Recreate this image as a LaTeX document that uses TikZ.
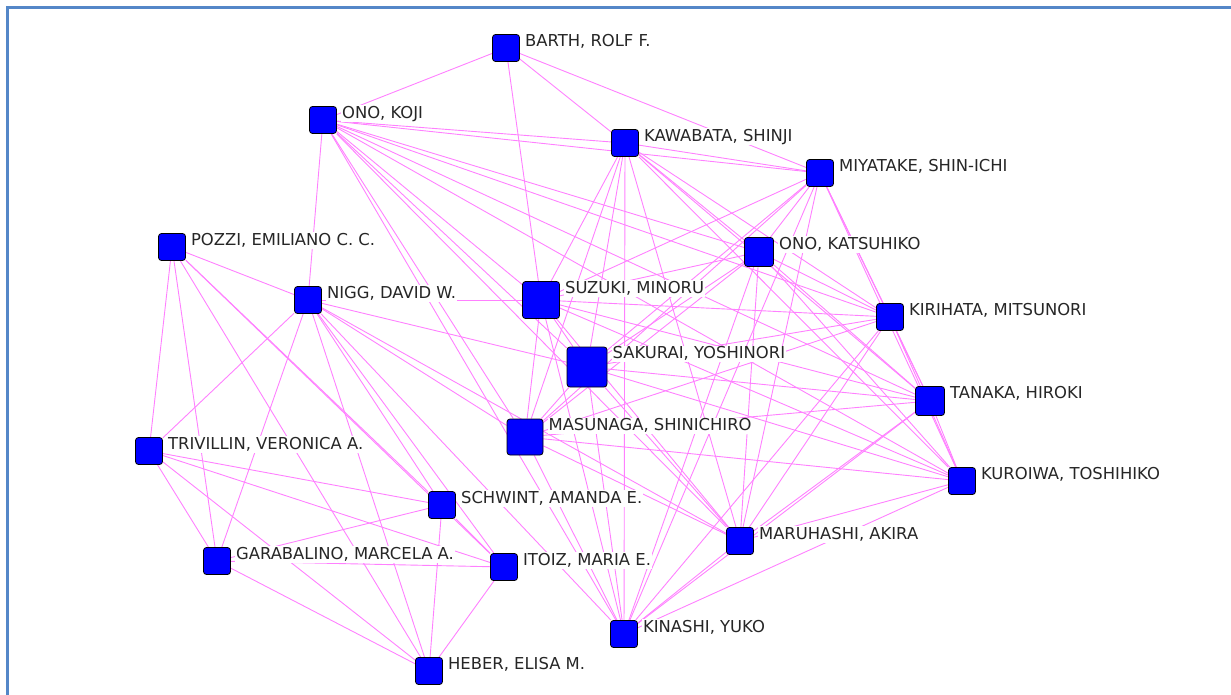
\documentclass[tikz,border=0pt]{standalone}
\usepackage{fontspec}
\setmainfont{DejaVu Sans}
\usetikzlibrary{positioning,backgrounds}
\definecolor{linkpink}{RGB}{255,128,255}
\definecolor{frameblue}{RGB}{84,135,200}

\begin{document}
\begin{tikzpicture}[
      x=1pt, y=-1pt,
      author/.style={rectangle, rounded corners=3pt, draw=black, line width=0.8pt, fill=blue, minimum size=27pt, inner sep=0pt},
      name-label/.style={fill=white, inner sep=1pt, text=black!85, font=\fontsize{16.4}{16.4}\selectfont, text height=12pt, text depth=2.5pt},
      link/.style={draw=linkpink, line width=0.9pt},
      frame/.style={draw=frameblue, line width=2.5pt}
    ]
      \useasboundingbox (0,0) rectangle (1231,695);
      \draw[frame] (7.5,695) -- (7.5,7.5) -- (1231,7.5);

      % authors
      \node[author] (barth) at (506,48) {};
      \node[author] (onokoji) at (323,120) {};
      \node[author] (kawabata) at (625,143) {};
      \node[author] (miyatake) at (820,173) {};
      \node[author] (pozzi) at (172,247) {};
      \node[author, minimum size=29pt] (onokatsu) at (759,252) {};
      \node[author] (nigg) at (308,300) {};
      \node[author, minimum size=37pt] (suzuki) at (541,300) {};
      \node[author] (kirihata) at (890,317) {};
      \node[author, minimum size=40pt] (sakurai) at (587,367) {};
      \node[author, minimum size=29pt] (tanaka) at (930,401) {};
      \node[author, minimum size=36pt] (masunaga) at (525,437) {};
      \node[author] (trivillin) at (149,451) {};
      \node[author] (kuroiwa) at (962,481) {};
      \node[author] (schwint) at (442,505) {};
      \node[author] (maruhashi) at (740,541) {};
      \node[author] (garabalino) at (217,561) {};
      \node[author] (itoiz) at (504,567) {};
      \node[author] (kinashi) at (624,634) {};
      \node[author] (heber) at (429,671) {};

      % names
      \foreach \who/\txt in {barth/{BARTH, ROLF F.}, onokoji/{ONO, KOJI}, kawabata/{KAWABATA, SHINJI},
          miyatake/{MIYATAKE, SHIN-ICHI}, pozzi/{POZZI, EMILIANO C. C.}, onokatsu/{ONO, KATSUHIKO},
          nigg/{NIGG, DAVID W.}, suzuki/{SUZUKI, MINORU}, kirihata/{KIRIHATA, MITSUNORI},
          sakurai/{SAKURAI, YOSHINORI}, tanaka/{TANAKA, HIROKI}, masunaga/{MASUNAGA, SHINICHIRO},
          trivillin/{TRIVILLIN, VERONICA A.}, kuroiwa/{KUROIWA, TOSHIHIKO}, schwint/{SCHWINT, AMANDA E.},
          maruhashi/{MARUHASHI, AKIRA}, garabalino/{GARABALINO, MARCELA A.}, itoiz/{ITOIZ, MARIA E.},
          kinashi/{KINASHI, YUKO}, heber/{HEBER, ELISA M.}}
        \node[name-label, below right=-1pt and 4pt of \who.north east] (\who-name) {\txt};

      % co-authorship links
      \begin{pgfonlayer}{background}
        \foreach \src/\dsts in {
            barth/{onokoji,kawabata,miyatake,suzuki},
            onokoji/{nigg,kawabata,miyatake,onokatsu,suzuki,kirihata,sakurai,tanaka,masunaga,kuroiwa,maruhashi,kinashi},
            kawabata/{miyatake,onokatsu,suzuki,kirihata,sakurai,tanaka,masunaga,kuroiwa,maruhashi,kinashi},
            miyatake/{onokatsu,suzuki,kirihata,sakurai,tanaka,masunaga,kuroiwa,maruhashi,kinashi},
            onokatsu/{suzuki,kirihata,sakurai,tanaka,masunaga,kuroiwa,maruhashi,kinashi},
            suzuki/{kirihata,sakurai,tanaka,masunaga,kuroiwa,maruhashi,kinashi},
            kirihata/{sakurai,tanaka,masunaga,kuroiwa,maruhashi,kinashi},
            sakurai/{tanaka,masunaga,kuroiwa,maruhashi,kinashi},
            tanaka/{masunaga,kuroiwa,maruhashi,kinashi},
            masunaga/{kuroiwa,maruhashi,kinashi},
            kuroiwa/{maruhashi,kinashi},
            maruhashi/{kinashi},
            nigg/{pozzi,trivillin,garabalino,schwint,itoiz,heber,suzuki,sakurai,masunaga,maruhashi,kinashi},
            pozzi/{trivillin,garabalino,schwint,itoiz,heber},
            trivillin/{garabalino,schwint,itoiz,heber},
            garabalino/{schwint,itoiz,heber},
            schwint/{itoiz,heber},
            itoiz/{heber}}
          \foreach \dst in \dsts
            \draw[link] (\src) -- (\dst);
      \end{pgfonlayer}
    \end{tikzpicture}
\end{document}
